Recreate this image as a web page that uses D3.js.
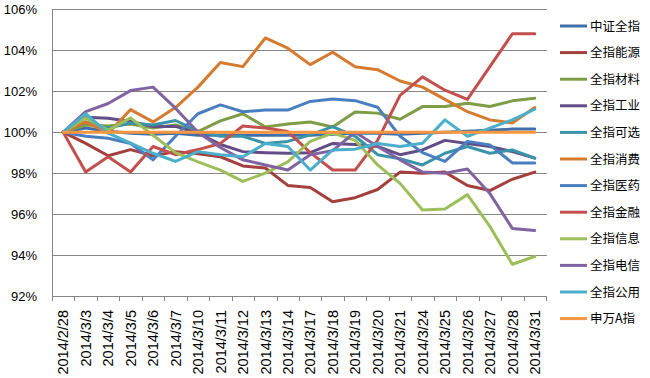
<!DOCTYPE html>
<html>
<head>
<meta charset="utf-8">
<script src="https://cdn.jsdelivr.net/npm/d3@7"></script>
<style>
  body { margin: 0; background: #fff; }
  text { font-family: "Liberation Sans", Arial, sans-serif; }
  .legend text { font-family: "Noto Sans CJK SC", sans-serif; }
</style>
</head>
<body>
<div id="chart"></div>
<script>
const width = 650, height = 378;

const dates = ["2014/2/28", "2014/3/3", "2014/3/4", "2014/3/5", "2014/3/6", "2014/3/7",
    "2014/3/10", "2014/3/11", "2014/3/12", "2014/3/13", "2014/3/14", "2014/3/17",
    "2014/3/18", "2014/3/19", "2014/3/20", "2014/3/21", "2014/3/24", "2014/3/25",
    "2014/3/26", "2014/3/27", "2014/3/28", "2014/3/31"];

const yTicks = [92, 94, 96, 98, 100, 102, 104, 106];

const names = ["中证全指", "全指能源", "全指材料", "全指工业", "全指可选", "全指消费",
    "全指医药", "全指金融", "全指信息", "全指电信", "全指公用", "申万A指"];

const colors = ["#3F6FAA", "#A33F3C", "#7F9C46", "#634D87", "#3A93A8", "#D57A2F",
    "#4A7FBF", "#C3504D", "#9CBF5A", "#8064A2", "#4BAECB", "#F8953F"];

// values in % of 2014/2/28
const zzqz = [100, 100.2, 100.05, 99.95, 99.9, 99.95, 99.85, 99.85, 99.85, 99.85, 99.85, 99.85, 99.9, 99.95, 99.95, 99.9, 99.95, 100.0, 100.05, 100.1, 100.15, 100.15];
const nengyuan = [100, 99.45, 98.85, 99.15, 98.85, 99.05, 98.95, 98.8, 98.35, 98.25, 97.4, 97.3, 96.6, 96.8, 97.2, 98.05, 98.0, 98.05, 97.4, 97.15, 97.7, 98.05];
const cailiao = [100, 100.35, 100.3, 100.4, 100.2, 100.35, 100.03, 100.55, 100.9, 100.25, 100.4, 100.5, 100.25, 100.98, 100.93, 100.63, 101.25, 101.25, 101.41, 101.25, 101.53, 101.66];
const gongye = [100, 100.73, 100.68, 100.52, 100.28, 100.28, 99.95, 99.4, 99.05, 99.0, 98.97, 99.0, 99.45, 99.4, 99.3, 98.9, 99.13, 99.6, 99.45, 99.3, 99.05, 98.73];
const kexuan = [100, 100.5, 100.2, 100.45, 100.35, 100.57, 100.05, 99.8, 99.8, 99.45, 99.55, 99.87, 100.27, 99.8, 98.9, 98.7, 98.4, 98.97, 99.3, 98.97, 99.13, 98.73];
const xiaofei = [100, 100.5, 99.95, 101.1, 100.5, 101.2, 102.2, 103.4, 103.2, 104.6, 104.1, 103.3, 103.9, 103.2, 103.05, 102.5, 102.2, 101.6, 101.0, 100.6, 100.45, 101.2];
const yiyao = [100, 99.8, 99.7, 99.45, 98.65, 99.8, 100.9, 101.33, 101.0, 101.08, 101.08, 101.5, 101.62, 101.54, 101.22, 99.8, 99.0, 98.57, 99.55, 99.38, 98.5, 98.5];
const jinrong = [100, 98.05, 98.8, 98.05, 99.3, 98.9, 99.15, 99.45, 100.3, 100.2, 100.03, 99.0, 98.15, 98.15, 99.6, 101.8, 102.7, 102.05, 101.6, 103.2, 104.8, 104.8];
const xinxi = [100, 100.7, 100.1, 100.7, 99.85, 99.0, 98.55, 98.15, 97.6, 98.0, 98.55, 99.55, 99.95, 99.6, 98.4, 97.5, 96.2, 96.25, 96.95, 95.4, 93.55, 93.93];
const dianxin = [100, 101.0, 101.4, 102.03, 102.2, 101.17, 100.0, 99.25, 98.65, 98.4, 98.15, 98.9, 99.1, 100.0, 99.3, 98.65, 98.05, 98.0, 98.2, 97.0, 95.3, 95.2];
const gongyong = [100, 100.9, 99.95, 99.46, 98.97, 98.57, 99.05, 98.9, 98.8, 99.45, 99.3, 98.15, 99.13, 99.17, 99.45, 99.3, 99.46, 100.6, 99.8, 100.2, 100.6, 101.12];
const swag = [100, 100, 100, 100, 100, 100, 100, 100, 100, 100, 100, 100, 100, 100, 100, 100, 100, 100, 100, 100, 100, 100];

const seriesValues = [zzqz, nengyuan, cailiao, gongye, kexuan, xiaofei, yiyao, jinrong, xinxi, dianxin, gongyong, swag];

const plot = { left: 52, right: 546, top: 9.3, bottom: 296 };

const svg = d3.select("#chart")
    .append("svg")
    .attr("width", width)
    .attr("height", height);

const x = d3.scalePoint()
    .domain(dates)
    .range([plot.left, plot.right])
    .padding(0.5);

const y = d3.scaleLinear()
    .domain([92, 106])
    .range([plot.bottom, plot.top]);

// gridlines
svg.append("g")
    .selectAll("line")
    .data(yTicks.slice(1))
    .enter()
    .append("line")
    .attr("x1", plot.left)
    .attr("x2", plot.right + 1)
    .attr("y1", d => Math.round(y(d)) + 0.5)
    .attr("y2", d => Math.round(y(d)) + 0.5)
    .attr("stroke", "#868686")
    .attr("stroke-width", 1);

// y labels
svg.append("g")
    .selectAll("text")
    .data(yTicks)
    .enter()
    .append("text")
    .attr("x", 37)
    .attr("y", d => y(d))
    .attr("dy", "0.36em")
    .attr("text-anchor", "end")
    .attr("font-size", 13)
    .attr("fill", "#000")
    .text(d => d + "%");

// y axis line
svg.append("line")
    .attr("x1", plot.left + 0.5)
    .attr("x2", plot.left + 0.5)
    .attr("y1", plot.top)
    .attr("y2", plot.bottom)
    .attr("stroke", "#868686");

// x axis with ticks at category borders
const step = x.step();
svg.append("line")
    .attr("x1", plot.left)
    .attr("x2", plot.right + 1)
    .attr("y1", Math.round(plot.bottom) + 0.5)
    .attr("y2", Math.round(plot.bottom) + 0.5)
    .attr("stroke", "#868686");

svg.append("g")
    .selectAll("line")
    .data(d3.range(dates.length + 1))
    .enter()
    .append("line")
    .attr("x1", i => Math.round(plot.left + i * step) + 0.5)
    .attr("x2", i => Math.round(plot.left + i * step) + 0.5)
    .attr("y1", plot.bottom)
    .attr("y2", plot.bottom + 5)
    .attr("stroke", "#868686");

svg.append("g")
    .selectAll("text")
    .data(dates)
    .enter()
    .append("text")
    .attr("transform", d => `translate(${x(d)},310) rotate(-90)`)
    .attr("dy", "0.36em")
    .attr("text-anchor", "end")
    .attr("font-size", 14.5)
    .attr("fill", "#000")
    .text(d => d);

// series lines
const line = d3.line()
    .x((d, i) => x(dates[i]))
    .y(d => y(d));

svg.append("g")
    .selectAll("path")
    .data(seriesValues)
    .enter()
    .append("path")
    .attr("d", d => line(d))
    .attr("fill", "none")
    .attr("stroke", (d, i) => colors[i])
    .attr("stroke-width", 3)
    .attr("stroke-linejoin", "round")
    .attr("stroke-linecap", "round");

// legend
const legend = svg.append("g")
    .attr("class", "legend")
    .selectAll("g")
    .data(names)
    .enter()
    .append("g")
    .attr("transform", (d, i) => `translate(0,${26 + i * 26.6})`);

legend.append("line")
    .attr("x1", 560)
    .attr("x2", 587)
    .attr("stroke", (d, i) => colors[i])
    .attr("stroke-width", 3);

legend.append("text")
    .attr("x", 590)
    .attr("dy", "0.36em")
    .attr("font-size", 12.5)
    .attr("fill", "#000")
    .text(d => d);
</script>
</body>
</html>
